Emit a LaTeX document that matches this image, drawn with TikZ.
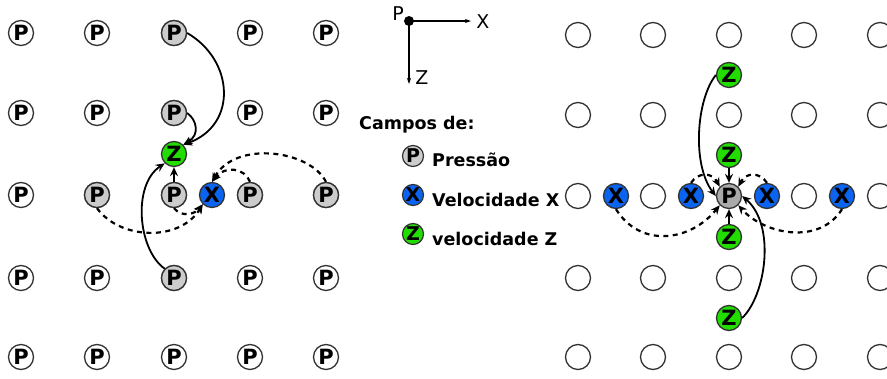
\documentclass[tikz,border=0pt]{standalone}
\usepackage{fontspec}
\newfontfamily\dv{DejaVu Sans}
\usetikzlibrary{arrows.meta}
\definecolor{pgray}{RGB}{204,204,204}
\definecolor{pdark}{RGB}{170,170,170}
\definecolor{vblue}{RGB}{10,100,240}
\definecolor{vgreen}{RGB}{34,221,0}
\tikzset{
  cell/.style={circle,draw=black!80,line width=1.3pt,minimum size=25pt,inner sep=0pt,
    font=\dv\bfseries\fontsize{21}{21}\selectfont},
  pw/.style={cell},
  pg/.style={cell,fill=pgray},
  pd/.style={cell,fill=pdark},
  xn/.style={cell,fill=vblue},
  zn/.style={cell,fill=vgreen},
  lg/.style={circle,draw=black!80,line width=1.2pt,minimum size=21pt,inner sep=0pt,
    font=\dv\bfseries\fontsize{19}{19}\selectfont},
  lbl/.style={font=\dv\bfseries\fontsize{17.5}{17.5}\selectfont,anchor=base west,inner sep=0pt},
  axl/.style={font=\dv\fontsize{19}{19}\selectfont,inner sep=0pt},
  arr/.style={line width=1.8pt,-{Stealth[length=9pt,width=8pt,inset=3pt]}},
  darr/.style={arr,line width=2.2pt,dash pattern=on 5pt off 4.5pt},
  axarr/.style={line width=1.6pt,-{Stealth[length=6pt,width=4pt]}}
}
\begin{document}
\begin{tikzpicture}[x=1pt,y=-1pt]
\useasboundingbox (0,0) rectangle (887,378);
% ---------------- left grid ----------------
\foreach \c/\x in {1/21,2/97,3/174,4/250,5/326}{
  \foreach \r/\y in {1/33,2/113,3/195,4/278,5/357}{
    \node[pw] (L\c\r) at (\x,\y) {P};
  }
}
\foreach \c/\r/\x/\y in {3/1/174/33,3/2/174/113,2/3/97/195,3/3/174/195,4/3/250/195,5/3/326/195,3/4/174/278}{
  \node[pg] (L\c\r) at (\x,\y) {P};
}
\node[zn] (LZ) at (174,154) {Z};
\node[xn] (LX) at (212,195) {X};
% connectors left
\draw[arr] (L31.east) .. controls (234,60) and (238,125) .. (LZ.north east);
\draw[arr] (L32.east) .. controls (197,120) and (200,135) .. (LZ.north east);
\draw[arr] (L33.north) -- (LZ.south);
\draw[arr] (L34.north west) .. controls (138,250) and (132,185) .. (LZ.south west);
\draw[darr] (L23.south) .. controls (120,240) and (180,242) .. (LX.south west);
\draw[darr] (L33.south) .. controls (182,218) and (195,214) .. (LX.south west);
\draw[darr] (L43.north) .. controls (245,168) and (225,165) .. (LX.north);
\draw[darr] (L53.north) .. controls (310,150) and (235,140) .. (LX.north);
% ---------------- legend ----------------
\node[circle,fill=black,inner sep=0pt,minimum size=10pt] (O) at (409,21) {};
\coordinate (AX) at (471,21);
\coordinate (AZ) at (409,84);
\draw[axarr] (O.center) -- (AX);
\draw[axarr] (O.center) -- (AZ);
\node[axl] (lP) at (398,14) {P};
\node[axl] (lX) at (483,22) {X};
\node[axl] (lZ) at (422,78) {Z};
\node[lbl] (camp) at (359,129) {Campos de:};
\node[lg,fill=pgray] (gP) at (413,156) {P};
\node[lbl] (tP) at (432,166) {Pressão};
\node[lg,fill=vblue] (gX) at (413,195) {X};
\node[lbl] (tX) at (432,206) {Velocidade X};
\node[lg,fill=vgreen] (gZ) at (413,234) {Z};
\node[lbl] (tZ) at (432,245) {velocidade Z};
% ---------------- right grid ----------------
\foreach \c/\x in {1/578,2/653,3/729,4/804,5/880}{
  \foreach \r/\y in {1/35,2/115,4/278,5/357}{
    \node[cell] (R\c\r) at (\x,\y) {};
  }
}
\foreach \c/\x in {1/578,2/653,4/804,5/880}{
  \node[cell] (R\c3) at (\x,196) {};
}
\node[pd] (RP) at (729,196) {P};
\node[xn] (X1) at (616,196) {X};
\node[xn] (X2) at (691,196) {X};
\node[xn] (X3) at (767,196) {X};
\node[xn] (X4) at (842,196) {X};
\node[zn] (Z1) at (729,75) {Z};
\node[zn] (Z2) at (729,155) {Z};
\node[zn] (Z3) at (729,237) {Z};
\node[zn] (Z4) at (729,318) {Z};
% connectors right
\draw[arr] (Z1.west) .. controls (696,100) and (692,165) .. (RP.west);
\draw[arr] (Z4.east) .. controls (766,295) and (776,225) .. (RP.east);
\draw[arr] (Z2.south) -- (RP.north);
\draw[arr] (Z3.north) -- (RP.south);
\draw[darr] (X1.south) .. controls (640,248) and (690,242) .. (RP.south west);
\draw[darr] (X4.south) .. controls (820,245) and (765,235) .. (RP.south east);
\draw[darr] (X2.north) .. controls (698,172) and (712,172) .. (RP.north west);
\draw[darr] (X3.north) .. controls (760,172) and (746,172) .. (RP.north east);
\end{tikzpicture}
\end{document}
